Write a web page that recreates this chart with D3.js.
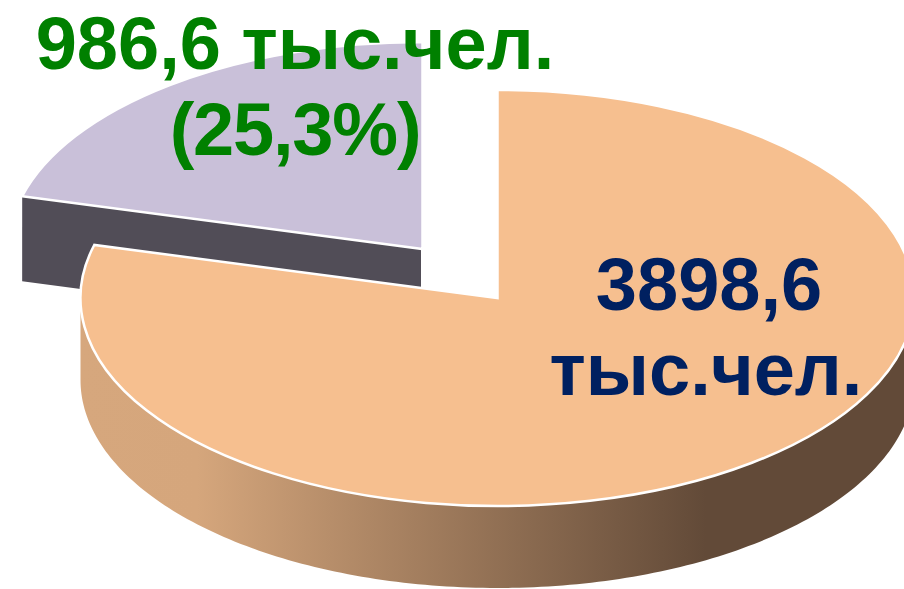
<!DOCTYPE html>
<html>
<head>
<meta charset="utf-8">
<script src="https://cdn.jsdelivr.net/npm/d3@7/dist/d3.min.js"></script>
<style>
html,body{margin:0;padding:0;background:#fff;overflow:hidden}
svg{display:block}
text{font-family:"Liberation Sans",Arial,sans-serif;font-weight:700}
</style>
</head>
<body>
<svg id="chart" width="904" height="589"></svg>
<script>
// Data
const categories = ["Оранжевый сектор", "Сиреневый сектор"];
const sliceShares = [79.1, 20.9];           // angular share as drawn
const sliceColors = ["#f6bf8f", "#c9c0d9"];
const cutFaceColor = "#514d57";
const wallStops = [[0, "#d6a77d"], [0.14, "#d5a67c"], [0.75, "#624a38"], [1, "#624a38"]];
const labelOrange = ["3898,6", "тыс.чел."];
const labelPurple = ["986,6 тыс.чел.", "(25,3%)"];

const W = 904, H = 589;
const depth = 82, cutDepth = 85;
const geom = [
  {cx: 497.5, cy: 298, rx: 417, ry: 208},   // main slice
  {cx: 422.5, cy: 249, rx: 414, ry: 207}    // exploded slice
];

const svg = d3.select("#chart");
const slices = d3.pie().sort(null).value(d => d)(sliceShares);

const defs = svg.append("defs");
const grad = defs.append("linearGradient").attr("id", "wall")
  .attr("gradientUnits", "userSpaceOnUse")
  .attr("x1", geom[0].cx - geom[0].rx).attr("x2", geom[0].cx + geom[0].rx)
  .attr("y1", 0).attr("y2", 0);
grad.selectAll("stop").data(wallStops).join("stop")
  .attr("offset", d => d[0]).attr("stop-color", d => d[1]);

const arc = d3.arc().innerRadius(0).outerRadius(1);
const px = (g, a) => g.cx + g.rx * Math.sin(a);
const py = (g, a) => g.cy - g.ry * Math.cos(a);

// Exploded slice: radial cut face, then its top
const gP = geom[1], sP = slices[1];
const cut = [
  [px(gP, sP.startAngle), py(gP, sP.startAngle)],
  [gP.cx - 1.5, gP.cy],
  [gP.cx - 1.5, gP.cy + cutDepth],
  [px(gP, sP.startAngle), py(gP, sP.startAngle) + cutDepth]
];
svg.append("path").attr("d", d3.line()(cut) + "Z").attr("fill", cutFaceColor);
svg.append("path")
  .attr("d", arc(sP))
  .attr("transform", `translate(${gP.cx},${gP.cy}) scale(${gP.rx},${gP.ry})`)
  .attr("fill", sliceColors[1])
  .attr("stroke", "#fff").attr("stroke-width", 2.5)
  .attr("vector-effect", "non-scaling-stroke")
  .attr("stroke-linejoin", "miter");

// Main slice: outer wall (front half of the rim), then its top
const gO = geom[0], sO = slices[0];
const angles = d3.range(Math.PI / 2, 3 * Math.PI / 2 + 0.001, Math.PI / 180);
const wall = d3.area()
  .x(a => px(gO, a))
  .y0(a => py(gO, a))
  .y1(a => py(gO, a) + depth);
svg.append("path").attr("d", wall(angles)).attr("fill", "url(#wall)");
svg.append("path")
  .attr("d", arc(sO))
  .attr("transform", `translate(${gO.cx},${gO.cy}) scale(${gO.rx},${gO.ry})`)
  .attr("fill", sliceColors[0])
  .attr("stroke", "#fff").attr("stroke-width", 2.5)
  .attr("vector-effect", "non-scaling-stroke");

// Labels
const fs = 74;
svg.append("g").attr("fill", "#008000").attr("font-size", fs).attr("text-anchor", "middle")
  .selectAll("text").data(labelPurple).join("text")
  .attr("x", 295).attr("y", (d, i) => i ? 155 : 69)
  .attr("letter-spacing", (d, i) => i ? -1.2 : 0).text(d => d);
svg.append("g").attr("fill", "#002060").attr("font-size", fs).attr("text-anchor", "middle")
  .selectAll("text").data(labelOrange).join("text")
  .attr("x", (d, i) => i ? 706 : 709).attr("y", (d, i) => i ? 395 : 310).text(d => d);
</script>
</body>
</html>
